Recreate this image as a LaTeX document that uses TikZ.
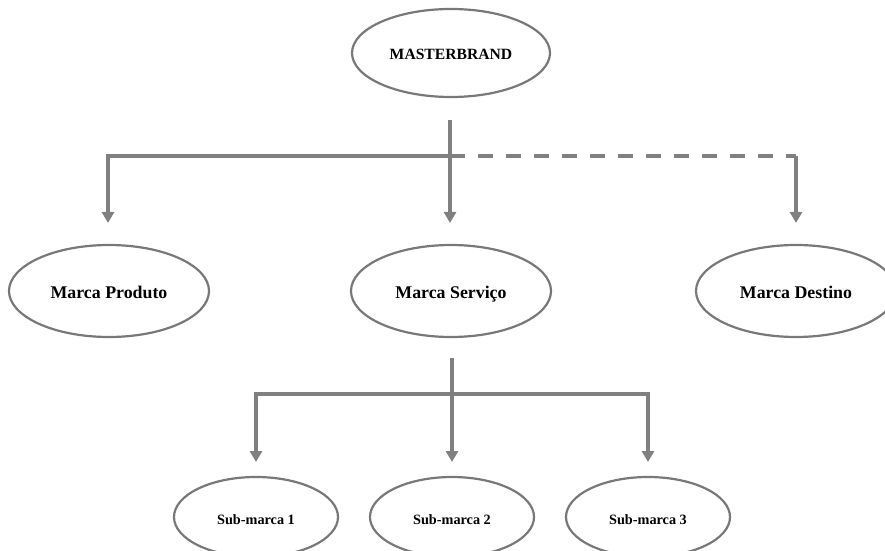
\documentclass[tikz,border=0pt]{standalone}
\usepackage{fontspec}
\setmainfont{Liberation Serif}
\usetikzlibrary{shapes.geometric,arrows.meta}

\definecolor{linegray}{HTML}{808080}
\definecolor{rimgray}{HTML}{787878}

\tikzset{
  brand/.style={ellipse, draw=rimgray, line width=2.2bp, inner sep=0pt,
    text=black},
  toplevel/.style={brand, minimum width=198bp, minimum height=88bp,
    font=\bfseries\fontsize{15.7}{18}\selectfont,
    text height=13pt, text depth=0.6pt},
  midlevel/.style={brand, minimum width=200bp, minimum height=92bp,
    font=\bfseries\fontsize{17.9}{21}\selectfont,
    text height=16.5pt, text depth=0.7pt},
  sublevel/.style={brand, minimum width=164bp, minimum height=80bp,
    font=\bfseries\fontsize{14.3}{17}\selectfont,
    text height=16pt, text depth=0.6pt},
  conn/.style={draw=linegray, line width=3.5bp},
  tipped/.style={conn, -{Triangle[width=12bp,length=11bp]}},
  optional/.style={conn, dash pattern=on 15bp off 13bp}
}

\begin{document}
\begin{tikzpicture}[x=1bp,y=-1bp]
\useasboundingbox (0,0) rectangle (885,551);
\clip (0,0) rectangle (885,551);

% brand nodes
\node[toplevel] (mb) at (451,53) {MASTERBRAND};
\node[midlevel] (prod) at (109,291) {Marca Produto};
\node[midlevel] (serv) at (451,291) {Marca Serviço};
\node[midlevel] (dest) at (796,291) {Marca Destino};
\node[sublevel] (s1) at (256,517) {Sub-marca 1};
\node[sublevel] (s2) at (452,517) {Sub-marca 2};
\node[sublevel] (s3) at (648,517) {Sub-marca 3};

% connector anchors
\coordinate (mbout) at (450,120);
\coordinate (j1) at (450,156);
\coordinate (k1) at (796,156);
\coordinate (prodin) at (108,223);
\coordinate (servin) at (450,223);
\coordinate (destin) at (796,223);

\coordinate (servout) at (452,358);
\coordinate (j2) at (452,394);
\coordinate (s1in) at (256,462);
\coordinate (s2in) at (452,462);
\coordinate (s3in) at (648,462);

% masterbrand to the three brand kinds
\draw[tipped] (mbout) -- (servin);
\draw[tipped] (j1) -| (prodin);
\draw[optional] (j1) -- (k1);
\draw[tipped] (k1) -- (destin);

% service brand to its sub-brands
\draw[tipped] (servout) -- (s2in);
\draw[tipped] (j2) -| (s1in);
\draw[tipped] (j2) -| (s3in);
\end{tikzpicture}
\end{document}
